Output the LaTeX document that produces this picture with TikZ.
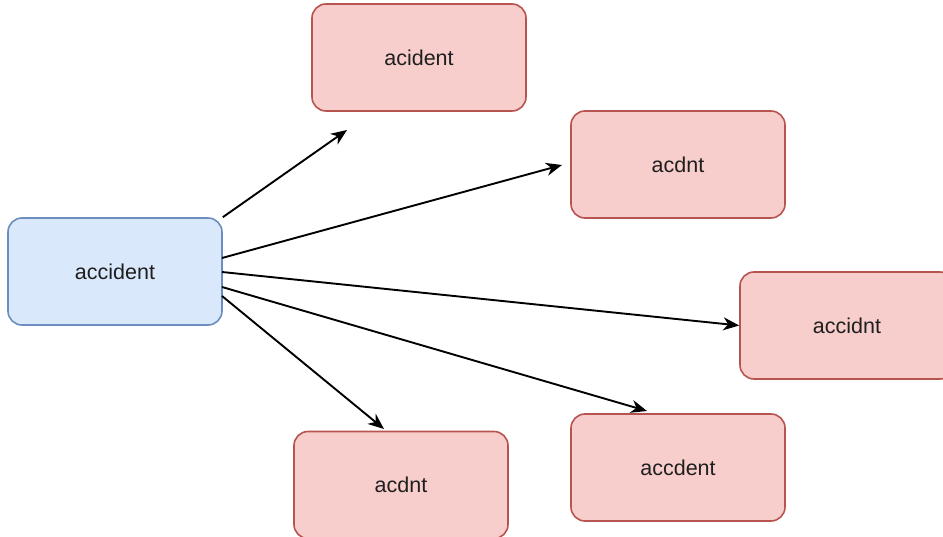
\documentclass[tikz,border=0pt]{standalone}
\usepackage{fontspec}
\setmainfont{Liberation Sans}
\usetikzlibrary{arrows.meta}
\definecolor{srcfill}{HTML}{DAE8FC}
\definecolor{srcline}{HTML}{6C8EBF}
\definecolor{varfill}{HTML}{F8CECC}
\definecolor{varline}{HTML}{B85450}
\begin{document}
\begin{tikzpicture}[x=1pt,y=-1pt,
  box/.style={rounded corners=14pt, minimum width=214pt, minimum height=107pt,
    inner sep=0pt, line width=1.6pt, text=black!88,
    font=\fontsize{21.5}{25}\selectfont},
  srcbox/.style={box, draw=srcline, fill=srcfill},
  varbox/.style={box, draw=varline, fill=varfill},
  link/.style={line width=1.9pt, draw=black,
    -{Stealth[length=16pt,width=13pt,inset=5pt]}}]
\useasboundingbox (0,0) rectangle (943,537);
\clip (0,0) rectangle (943,537);

% source word and its misspelled variants
\node[srcbox] (src) at (115,271.5) {accident};
\node[varbox] (v1) at (419,57.5) {acident};
\node[varbox] (v2) at (678,164.5) {acdnt};
\node[varbox] (v3) at (847,325.5) {accidnt};
\node[varbox] (v4) at (678,467.5) {accdent};
\node[varbox] (v5) at (401,485) {acdnt};

% start points on the source box and loose arrow ends
\coordinate (s2) at (222,258);
\coordinate (s3) at (222,272);
\coordinate (s4) at (222,287);
\coordinate (s5) at (222,296);
\coordinate (t1) at (347,130);
\coordinate (t2) at (562,165);
\coordinate (t4) at (647,411);
\coordinate (t5) at (384,429);

\draw[link] (src.north east) -- (t1);
\draw[link] (s2) -- (t2);
\draw[link] (s3) -- (v3.west);
\draw[link] (s4) -- (t4);
\draw[link] (s5) -- (t5);
\end{tikzpicture}
\end{document}
